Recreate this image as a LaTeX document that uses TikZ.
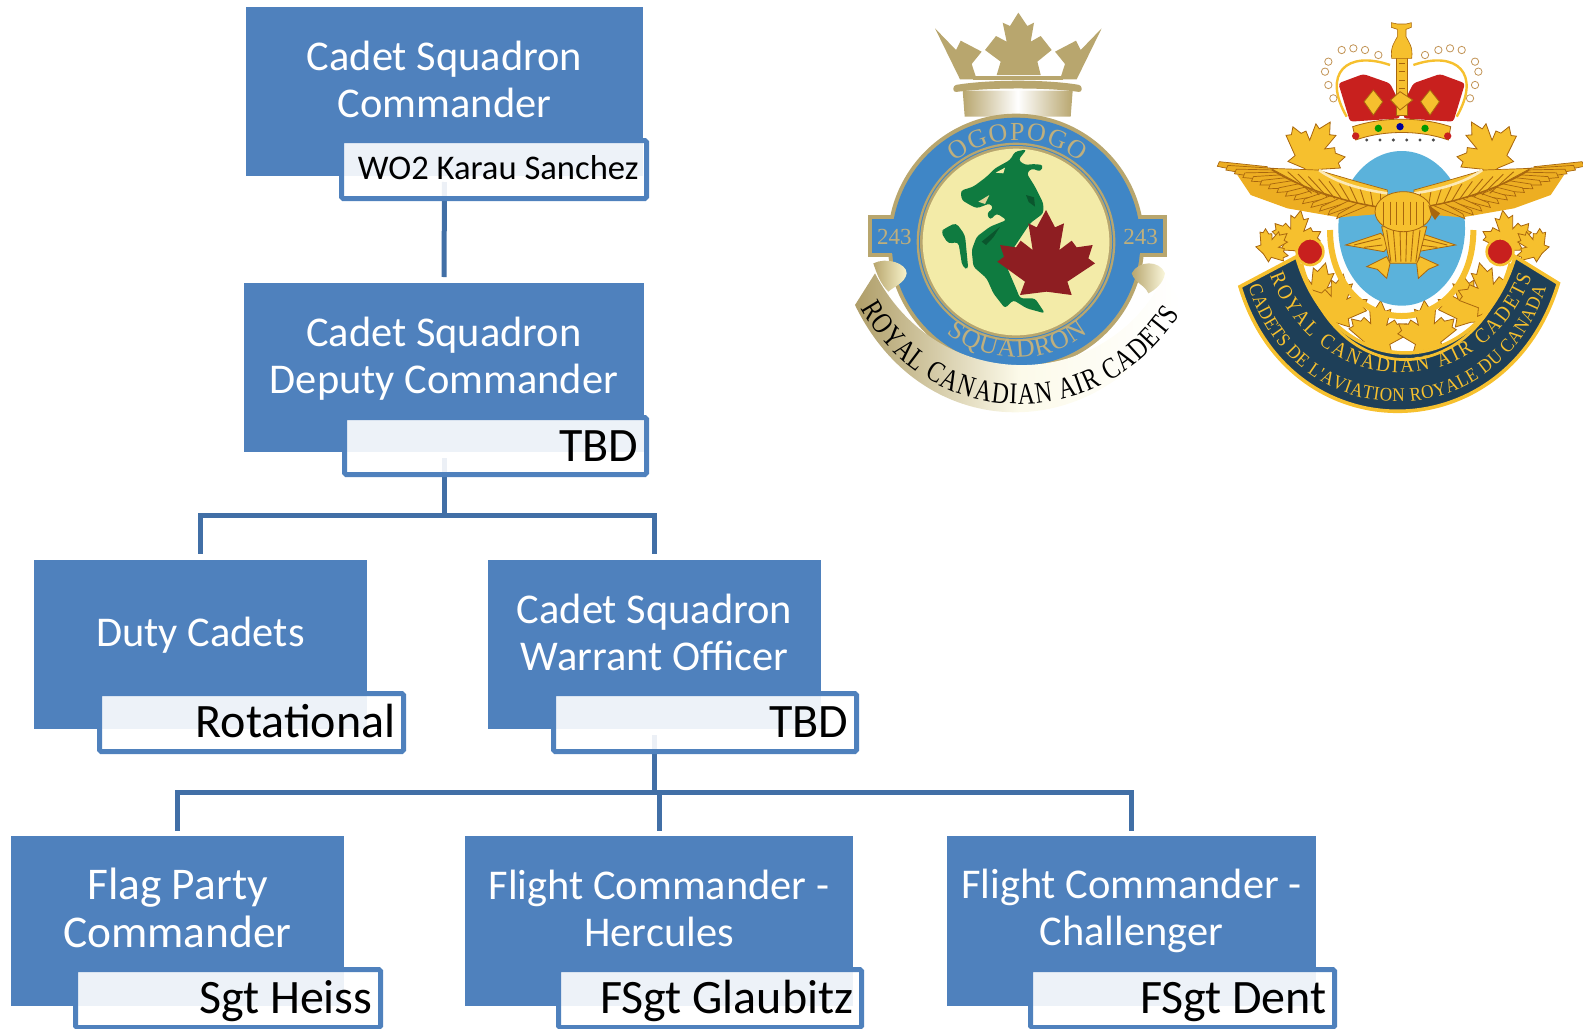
\documentclass[tikz,border=0pt]{standalone}
\usepackage{fontspec}
\setmainfont{Carlito}
\newfontfamily\crestfont{Liberation Serif}
\newfontfamily\ribbonfam[FakeStretch=0.79]{Liberation Serif}
\newfontfamily\bannerfam[FakeStretch=0.9]{Liberation Serif}
\usetikzlibrary{decorations.text}
\definecolor{unitblue}{HTML}{4F81BD}
\definecolor{linkblue}{HTML}{416FA6}
\definecolor{crestgold}{HTML}{B8A66E}
\definecolor{crestblue}{HTML}{3F86C6}
\definecolor{crestcream}{HTML}{F3EBA8}
\definecolor{dragongreen}{HTML}{0F7B40}
\definecolor{leafred}{HTML}{8E1E22}
\definecolor{skyblue}{HTML}{5BB2DB}
\definecolor{brightgold}{HTML}{F6C02E}
\definecolor{midgold}{HTML}{EDAE22}
\definecolor{darkgold}{HTML}{A8660E}
\definecolor{navy}{HTML}{1E3F58}
\definecolor{crownred}{HTML}{C8201E}
\newcommand{\sizetitle}{\fontsize{21.2}{23.5}\selectfont}
\newcommand{\sizetitlebig}{\fontsize{22.7}{24.2}\selectfont}
\newcommand{\ogofont}{\crestfont\fontsize{13}{15}\selectfont}
\newcommand{\numfont}{\crestfont\fontsize{11.5}{13}\selectfont}
\newcommand{\ribbonfont}{\ribbonfam\fontsize{15}{17}\selectfont}
\newcommand{\innerbanner}{\bannerfam\fontsize{10.5}{12}\selectfont}
\newcommand{\outerbanner}{\bannerfam\fontsize{9.6}{11}\selectfont}
\tikzset{
  unitbox/.style={fill=unitblue,draw=none,inner sep=0pt,outer sep=0pt},
  titletext/.style={text=white,align=center,inner sep=0pt},
  holderbox/.style={draw=unitblue,line width=2.5pt,rounded corners=0.8pt,fill=white,fill opacity=.9,text opacity=1,
    inner xsep=4pt,inner ysep=0pt,align=flush right,text=black},
  namelarge/.style={font=\fontsize{24}{26}\selectfont,text height=18pt,text depth=2.8pt},
  namesmall/.style={font=\fontsize{17.3}{20}\selectfont,text height=13.5pt,text depth=4pt},
  linkline/.style={draw=linkblue,line width=2.5pt},
  goldleaf/.style={fill=brightgold,draw=darkgold,line width=.4pt},
  feather/.style={fill=midgold,draw=darkgold,line width=.35pt},
  featherline/.style={draw=darkgold,line width=.45pt},
  pearl/.style={fill=white,draw=darkgold!70,line width=.4pt}
}
\newcommand{\unitnode}[5]{\node[unitbox,minimum width={(#4-#2)*0.5pt},minimum height={(#5-#3)*0.5pt}] (#1) at ({(#2+#4)/2},{(#3+#5)/2}) {};}
\newcommand{\holdernode}[7]{%
  \pgfmathsetmacro{\holderw}{(#4-#2-5)*0.5-8}%
  \node[holderbox,text width=\holderw pt,minimum height={(#5-#3-5)*0.5pt},#6] (#1) at ({(#2+#4)/2},{(#3+#5)/2}) {#7};}
\newcommand{\mapleleaf}[5]{\filldraw[#5,shift={(#1,#2)},rotate=#4,scale=#3]
  (0,-140) -- (27,-88) -- (54,-100) -- (40,-20) -- (77,-48) -- (92,-28) -- (140,-35) -- (127,5) -- (147,20) -- (64,75) -- (77,115) -- (2,105) -- (-78,115) -- (-63,75) -- (-146,15) -- (-126,0) -- (-138,-35) -- (-90,-28) -- (-76,-48) -- (-40,-20) -- (-53,-100) -- (-28,-88) -- cycle;}
\begin{document}
\begin{tikzpicture}[x=0.5pt,y=-0.5pt]
\useasboundingbox (0,0) rectangle (1583,1028);
% ---------- org chart: connectors under the boxes
\coordinate (busA) at (444,515);
\coordinate (busB) at (654.5,792.5);
\unitnode{csc}{246}{7}{643}{176}
\unitnode{dep}{244}{283}{644}{452}
\unitnode{duty}{34}{560}{367}{729}
\unitnode{cswo}{488}{560}{821}{729}
\unitnode{flag}{11}{836}{344}{1006}
\unitnode{herc}{465}{836}{853}{1006}
\unitnode{chal}{947}{836}{1316}{1006}
\draw[linkline,shorten <=3pt,shorten >=3pt] (csc.south) -- (dep.north);
\draw[linkline,shorten <=3pt,shorten >=3pt] (dep.south) -- (busA) -| (duty.north);
\draw[linkline,shorten >=3pt] (busA) -| (cswo.north);
\draw[linkline,shorten <=3pt,shorten >=2.5pt] (cswo.south) -- (busB) -| (flag.north);
\draw[linkline,shorten >=2.5pt] (busB) -| (herc.north);
\draw[linkline,shorten >=2.5pt] (busB) -| (chal.north);
\node[titletext,font=\sizetitle] (csct) at (444.5,79) {Cadet Squadron\\Commander};
\node[titletext,font=\sizetitle] (dept) at (444,359) {Cadet Squadron\\Deputy Commander};
\node[titletext,font=\sizetitle] (dutyt) at (200.5,635) {Duty Cadets};
\node[titletext,font=\sizetitle] (cswot) at (654.5,632) {Cadet Squadron\\Warrant Officer};
\node[titletext,font=\sizetitlebig] (flagt) at (177.5,908) {Flag Party\\Commander};
\node[titletext,font=\sizetitle] (herct) at (659,908) {Flight Commander -\\Hercules};
\node[titletext,font=\sizetitle] (chalt) at (1131.5,911) {Flight Commander -\\Challenger};
\holdernode{cscn}{339}{138}{649}{201}{namesmall}{WO2 Karau Sanchez}
\holdernode{depn}{342}{415}{649}{477}{namelarge}{TBD}
\holdernode{dutyn}{97}{691}{406}{754}{namelarge}{Rotational}
\holdernode{cswon}{551}{691}{859}{754}{namelarge}{TBD}
\holdernode{flagn}{73}{967}{383}{1030}{namelarge}{Sgt Heiss}
\holdernode{hercn}{556}{967}{864}{1030}{namelarge}{FSgt Glaubitz}
\holdernode{chaln}{1028}{967}{1337}{1030}{namelarge}{FSgt Dent}
% ---------- squadron crest (coordinates: 3x crop from x=830,y=0)
\begin{scope}[shift={(830,0)},x=0.16667pt,y=-0.16667pt]
  % crown
  \fill[crestgold] (315,85) -- (378,150) -- (392,122) -- (455,155) -- (425,192) -- (440,238) -- (390,238) -- cycle;
  \fill[crestgold] (815,85) -- (752,150) -- (738,122) -- (675,155) -- (705,192) -- (690,238) -- (740,238) -- cycle;
  \fill[crestgold] (565,38) -- (592,78) -- (612,68) -- (602,125) -- (632,108) -- (665,150) -- (622,185) -- (632,225) -- (500,225) -- (512,185) -- (465,150) -- (498,108) -- (530,125) -- (518,68) -- (540,78) -- cycle;
  \fill[crestgold] (430,228) -- (700,228) -- (700,240) -- (430,240) -- cycle;
  \shade[left color=crestgold,right color=crestgold,middle color=white] (398,272) -- (728,272) -- (722,350) -- (404,350) -- cycle;
  \fill[crestgold,rounded corners=1.5pt] (370,256) .. controls (480,238) and (650,238) .. (755,256) -- (755,277) .. controls (650,262) and (480,262) .. (370,277) -- cycle;
  % shield
  \fill[crestgold] (115,645) rectangle (1010,772);
  \fill[crestgold] (558,726) circle[radius=385];
  \fill[crestblue] (127,657) rectangle (998,760);
  \fill[crestblue] (558,726) circle[radius=373];
  \fill[crestgold] (558,726) circle[radius=298];
  \fill[crestblue] (558,726) circle[radius=291];
  \fill[crestgold] (558,726) circle[radius=288];
  \fill[crestcream] (558,726) circle[radius=280];
  \node[font=\numfont,text=crestgold!90!white,inner sep=0pt] (numL) at (193,712) {243};
  \node[font=\numfont,text=crestgold!90!white,inner sep=0pt] (numR) at (932,712) {243};
  \path[decorate,decoration={text along path,text color=crestgold!90!white,text align={fit to path},text={|\ogofont|OGOPOGO}}]
    (562,726) ++(-128:306) arc[start angle=-128,end angle=-52,radius=306];
  \path[decorate,decoration={text along path,text color=crestgold!90!white,text align={fit to path},text={|\ogofont|SQUADRON}}]
    (562,726) ++(128:346) arc[start angle=128,end angle=52,radius=346];
  % dragon
  \fill[dragongreen,rounded corners=2pt] (345,685) -- (378,668) -- (405,705) -- (415,810) -- (397,800) -- (385,725) -- (355,732) -- (332,695) -- cycle;
  \fill[dragongreen,rounded corners=1.5pt] (392,572) -- (430,560) -- (470,530) -- (495,505) -- (540,480) -- (555,455) -- (590,448) -- (565,480) -- (585,495) -- (610,492) -- (640,495) -- (632,515) -- (605,505) -- (590,520) -- (615,560) -- (640,610) -- (640,640) -- (600,670) -- (580,700) -- (540,760) -- (530,800) -- (560,870) -- (570,895) -- (615,895) -- (645,940) -- (590,925) -- (550,900) -- (525,925) -- (490,880) -- (470,835) -- (430,800) -- (425,750) -- (440,710) -- (480,680) -- (530,660) -- (500,640) -- (480,660) -- (470,640) -- (490,625) -- (480,610) -- (440,625) -- (420,615) -- (395,600) -- cycle;
  \fill[crestcream] (497,518) -- (525,503) -- (520,520) -- cycle;
  \fill[crestcream!70!crestgold] (445,605) -- (478,585) -- (465,612) -- cycle;
  \fill[black!30!dragongreen] (588,585) -- (612,592) -- (615,620) -- (596,606) -- cycle;
  \fill[black!30!dragongreen] (455,725) -- (510,680) -- (490,712) -- (468,735) -- cycle;
  \mapleleaf{648}{770}{1}{0}{fill=leafred,draw=none}
  % ribbon
  \shade[left color=crestgold!95!black,right color=white,middle color=crestcream!25!white,draw=none]
    (75,915) .. controls (280,1340) and (820,1350) .. (1055,910) -- (1005,830) -- (985,860) .. controls (800,1180) and (320,1180) .. (135,820) -- cycle;
  \shade[left color=crestgold,right color=crestcream!60!white] (130,790) .. controls (170,770) and (230,790) .. (230,820) .. controls (225,850) and (190,860) .. (175,875) .. controls (150,850) and (140,820) .. (130,790) -- cycle;
  \shade[left color=crestgold,right color=crestcream!40!white] (905,820) .. controls (925,780) and (990,780) .. (1005,820) .. controls (1000,850) and (975,870) .. (955,880) .. controls (945,855) and (915,850) .. (905,820) -- cycle;
  \path[decorate,decoration={text along path,text align={fit to path},text={|\ribbonfont|ROYAL CANADIAN AIR CADETS}}]
    (92,925) .. controls (300,1300) and (810,1310) .. (1048,945);
\end{scope}
% ---------- cadet badge (coordinates: 3x crop from x=1190,y=0)
\begin{scope}[shift={(1190,0)},x=0.16667pt,y=-0.16667pt]
  % leaves behind
  \mapleleaf{375}{445}{.65}{-30}{goldleaf}
  \mapleleaf{890}{445}{.65}{30}{goldleaf}
  \mapleleaf{320}{700}{.5}{-10}{goldleaf}
  \mapleleaf{950}{700}{.5}{10}{goldleaf}
  \mapleleaf{250}{735}{.38}{-50}{goldleaf}
  \mapleleaf{1025}{735}{.38}{50}{goldleaf}
  \mapleleaf{385}{870}{.6}{-15}{goldleaf}
  \mapleleaf{445}{905}{.6}{-10}{goldleaf}
  \mapleleaf{565}{985}{.6}{-5}{goldleaf}
  \mapleleaf{710}{985}{.6}{5}{goldleaf}
  \mapleleaf{830}{905}{.6}{10}{goldleaf}
  \mapleleaf{890}{870}{.6}{15}{goldleaf}
  % ring and sky
  \draw[brightgold,line width=3pt] (420,690) .. controls (420,850) and (520,948) .. (635,948) .. controls (750,948) and (850,850) .. (850,690);
  \fill[skyblue] (635,685) ellipse[x radius=190,y radius=232];
  % crown
  \fill[crownred,rounded corners=1.5pt] (445,250) -- (520,222) -- (600,250) -- (625,300) -- (630,355) -- (480,365) -- cycle;
  \fill[crownred,rounded corners=1.5pt] (825,250) -- (750,222) -- (670,250) -- (645,300) -- (640,355) -- (790,365) -- cycle;
  \draw[brightgold,line width=1.2pt] (470,350) .. controls (395,220) and (470,150) .. (600,195);
  \draw[brightgold,line width=1.2pt] (800,350) .. controls (875,220) and (800,150) .. (670,195);
  \fill[brightgold,draw=darkgold,line width=.3pt] (618,170) rectangle (652,345);
  \foreach \sy in {190,215,...,290}
    \draw[darkgold,line width=.3pt] (626,\sy) -- (644,\sy);
  \fill[brightgold,draw=darkgold,line width=.3pt] (605,175) .. controls (600,140) and (615,125) .. (622,110) -- (622,88) -- (604,82) -- (604,68) -- (622,72) -- (648,72) -- (664,68) -- (664,82) -- (648,88) -- (648,110) .. controls (655,125) and (670,140) .. (665,175) -- cycle;
  \foreach \px/\py in {430/295,415/255,405/215,415/185,455/150,490/145,525/150,565/165,840/295,855/255,865/215,855/185,815/150,780/145,745/150,705/165}
    \filldraw[pearl] (\px,\py) circle[radius=11];
  \foreach \fx in {550,720}{
    \filldraw[goldleaf] (\fx,270) -- ({\fx+28},305) -- (\fx,345) -- ({\fx-28},305) -- cycle;}
  \filldraw[goldleaf] (630,275) -- (668,300) -- (630,330) -- (602,300) -- cycle;
  \fill[white] (490,405) .. controls (580,385) and (690,385) .. (780,405) -- (755,455) .. controls (680,425) and (590,425) .. (515,455) -- cycle;
  \foreach \ex in {530,570,...,740}
    \fill[black!70] (\ex,420) circle[radius=5];
  \filldraw[goldleaf] (488,380) .. controls (580,350) and (690,350) .. (782,380) -- (775,420) .. controls (690,390) and (580,390) .. (497,420) -- cycle;
  \foreach \jx/\jy/\jc in {497/408/crownred,773/408/crownred,565/385/green!60!black,705/385/green!60!black,630/380/blue!60!black}
    \fill[\jc] (\jx,\jy) circle[radius=11];
  % wings
  \foreach \side in {1,-1}{
    \begin{scope}[shift={(632,0)},xscale=\side]
      \fill[midgold] (-490,525) -- (-400,505) -- (-60,575) -- (-40,640) -- (-185,652) -- (-340,625) -- (-450,585) -- cycle;
      \foreach \t in {1,0.93,...,0}{
        \filldraw[feather] ({-60-340*\t},{575-75*\t}) -- ({-185-365*\t+6},{652-160*\t-7}) -- ({-185-365*\t},{652-160*\t+7}) -- ({-60-340*\t},{605-75*\t}) -- cycle;}
      \filldraw[fill=brightgold,draw=darkgold,line width=.35pt] (-390,505) -- (-250,510) -- (-130,545) -- (-40,570) -- (-40,625) -- (-130,610) -- (-260,575) -- cycle;
      \foreach \t in {0,0.1,...,1}
        \draw[featherline] ({-60-310*\t},{580-72*\t}) -- ({-60-230*\t},{625-50*\t});
      \draw[darkgold,line width=.7pt] (-40,625) .. controls (-150,612) and (-300,565) .. (-385,510);
      \draw[brightgold!35!white,line width=1.3pt] (-245,510) .. controls (-190,550) and (-110,570) .. (-40,580);
      \filldraw[goldleaf] (-60,700) -- (-165,735) -- (-50,755) -- (-30,730) -- cycle;
      \draw[featherline] (-60,715) -- (-140,735);
      \draw[featherline] (-55,735) -- (-110,742);
    \end{scope}}
  % eagle body
  \filldraw[goldleaf] (575,680) -- (710,680) -- (682,790) -- (600,790) -- cycle;
  \foreach \bx in {590,610,...,690}
    \draw[featherline] (\bx,690) -- ({640+(\bx-640)*.75},785);
  \filldraw[goldleaf] (640,635) ellipse[x radius=85,y radius=60];
  \foreach \bx in {580,600,...,700}
    \draw[featherline] (\bx,605) -- (\bx,675);
  \fill[darkgold] (715,615) -- (750,640) -- (735,660) -- (722,640) -- cycle;
  \filldraw[goldleaf] (590,770) -- (530,800) -- (562,808) -- (590,835) -- (600,790) -- cycle;
  \filldraw[goldleaf] (690,770) -- (745,795) -- (715,808) -- (685,835) -- (680,790) -- cycle;
  % banner
  \filldraw[fill=navy,draw=brightgold,line width=1.8pt]
    (150,860) -- (320,770) .. controls (430,1155) and (860,1155) .. (975,770) -- (1105,850) .. controls (950,1360) and (300,1360) .. (150,860) -- cycle;
  \draw[brightgold,line width=1.4pt] (335,790) .. controls (440,1175) and (850,1175) .. (960,790);
  \filldraw[fill=crownred,draw=brightgold,line width=1.3pt] (360,755) circle[radius=40];
  \filldraw[fill=crownred,draw=brightgold,line width=1.3pt] (930,755) circle[radius=40];
  \path[decorate,decoration={text along path,text color=brightgold,text align={fit to path},text={|\innerbanner|ROYAL CANADIAN AIR CADETS}}]
    (240,825) .. controls (385,1215) and (875,1215) .. (1025,830);
  \path[decorate,decoration={text along path,text color=brightgold,text align={fit to path},text={|\outerbanner|CADETS DE L'AVIATION ROYALE DU CANADA}}]
    (175,860) .. controls (320,1320) and (920,1320) .. (1068,865);
\end{scope}
\end{tikzpicture}
\end{document}
